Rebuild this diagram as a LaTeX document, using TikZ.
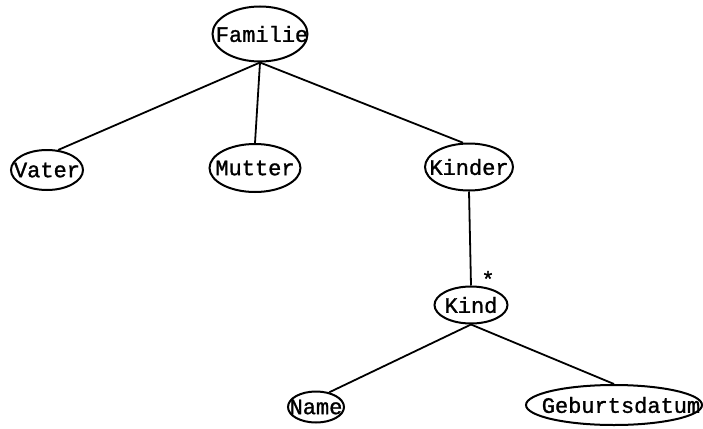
\documentclass[tikz,border=0pt]{standalone}
\usepackage{fontspec}
\newfontfamily\tw[FakeBold=1.2]{Liberation Mono}
\usetikzlibrary{shapes.geometric}
\begin{document}
\begin{tikzpicture}[x=1pt,y=1pt,
  oval/.style={draw, ellipse, line width=2pt, inner sep=0pt, font=\tw\fontsize{22}{22}\selectfont},
  edge/.style={line width=1.8pt}]
\useasboundingbox (0,0) rectangle (703,-428);
% tree nodes
\node[oval, minimum width=95, minimum height=55] (fam) at (260,-34) {\makebox[0pt]{\hspace*{4pt}Familie}};
\node[oval, minimum width=72, minimum height=40] (vat) at (47,-170) {\makebox[0pt]{Vater}};
\node[oval, minimum width=91, minimum height=48] (mut) at (255,-168) {\makebox[0pt]{Mutter}};
\node[oval, minimum width=88, minimum height=47] (kin) at (469,-167) {\makebox[0pt]{Kinder}};
\node[oval, minimum width=73, minimum height=37] (kid) at (471,-305) {\makebox[0pt]{Kind}};
\node[oval, minimum width=56, minimum height=31] (nam) at (316,-407) {\makebox[0pt]{Name}};
\node[oval, minimum width=176, minimum height=40] (geb) at (614,-405) {\makebox[0pt]{\hspace*{14pt}Geburtsdatum}};
% multiplicity mark
\node[font=\tw\fontsize{22}{22}\selectfont, inner sep=0pt] (star) at (488,-279) {*};
% connectors
\draw[edge] (fam.south) -- (vat.61);
\draw[edge] (fam.south) -- (mut.north);
\draw[edge] (fam.south) -- (kin.104);
\draw[edge] (kin.south) -- (kid.north);
\draw[edge] (kid.south) -- (nam.48);
\draw[edge] (kid.south) -- (geb.north);
\end{tikzpicture}
\end{document}
